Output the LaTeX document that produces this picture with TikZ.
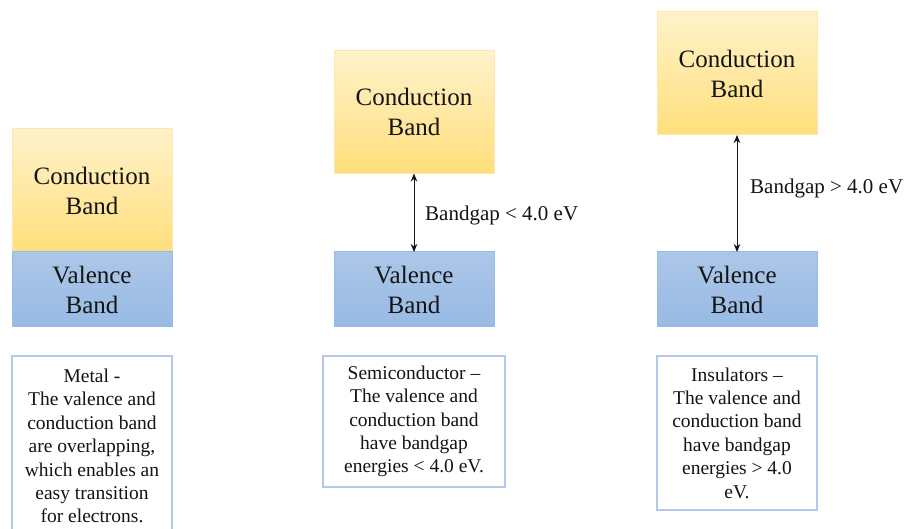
\documentclass[tikz,border=0pt]{standalone}
\usepackage{fontspec}
\setmainfont{Liberation Serif}
\usetikzlibrary{arrows.meta}
\definecolor{cbtop}{RGB}{255,252,242}
\definecolor{cbmid}{RGB}{255,223,125}
\definecolor{cbbot}{RGB}{255,235,170}
\definecolor{cbedge}{RGB}{255,230,175}
\definecolor{vbtop}{RGB}{182,204,234}
\definecolor{vbbot}{RGB}{142,180,226}
\definecolor{vbedge}{RGB}{150,188,230}
\definecolor{txedge}{RGB}{180,200,236}
\definecolor{ink}{RGB}{20,20,20}
\pgfdeclareverticalshading{condshade}{100bp}{color(0bp)=(cbbot); color(18bp)=(cbmid); color(26bp)=(cbmid); color(100bp)=(cbtop)}
\pgfdeclareverticalshading{valshade}{100bp}{color(0bp)=(vbbot); color(100bp)=(vbtop)}
\tikzset{
  band/.style={inner sep=0pt, outer sep=0pt, minimum width=160pt, align=center, text=ink, font=\fontsize{25}{30}\selectfont, line width=1pt},
  condband/.style={band, draw=cbedge, shading=condshade, minimum height=123pt},
  valband/.style={band, draw=vbedge, shading=valshade, minimum height=75pt},
  desc/.style={inner sep=0pt, align=center, text=ink, font=\fontsize{19.5}{23.4}\selectfont},
  descbox/.style={draw=txedge, line width=1.2pt},
  gap/.style={{Stealth[length=8pt,width=6.5pt]}-{Stealth[length=8pt,width=6.5pt]}, line width=1pt, draw=ink},
  gaplabel/.style={anchor=west, inner sep=0pt, text=ink, font=\fontsize{21}{25}\selectfont}
}
\begin{document}
\begin{tikzpicture}[x=1pt,y=-1pt]
\useasboundingbox[fill=white] (0,0) rectangle (913,529);
% Metal
\node[condband] (mc) at (92,190.5) {Conduction\\Band};
\node[valband] (mv) at (92,289.5) {Valence\\Band};
\draw[descbox] (12,530) -- (12,356) -- (172,356) -- (172,530);
\node[desc] (mt) at (92,446) {Metal -\\The valence and\\conduction band\\are overlapping,\\which enables an\\easy transition\\for electrons.};
% Semiconductor
\node[condband] (sc) at (414,112) {Conduction\\Band};
\node[valband] (sv) at (414,289.5) {Valence\\Band};
\draw[gap] (sc.south) -- (sv.north);
\node[gaplabel] (sl) at (425,215) {Bandgap < 4.0 eV};
\node[desc, draw=txedge, line width=1.2pt, minimum width=182pt, minimum height=131pt] (st) at (414,421.5) {Semiconductor –\\The valence and\\conduction band\\have bandgap\\energies < 4.0 eV.};
% Insulator
\node[condband] (ic) at (737,73.5) {Conduction\\Band};
\node[valband] (iv) at (737,289.5) {Valence\\Band};
\draw[gap] (ic.south) -- (iv.north);
\node[gaplabel] (il) at (750,188) {Bandgap > 4.0 eV};
\node[desc, draw=txedge, line width=1.2pt, minimum width=160pt, minimum height=154pt] (it) at (737,433) {Insulators –\\The valence and\\conduction band\\have bandgap\\energies > 4.0\\eV.};
\end{tikzpicture}
\end{document}
